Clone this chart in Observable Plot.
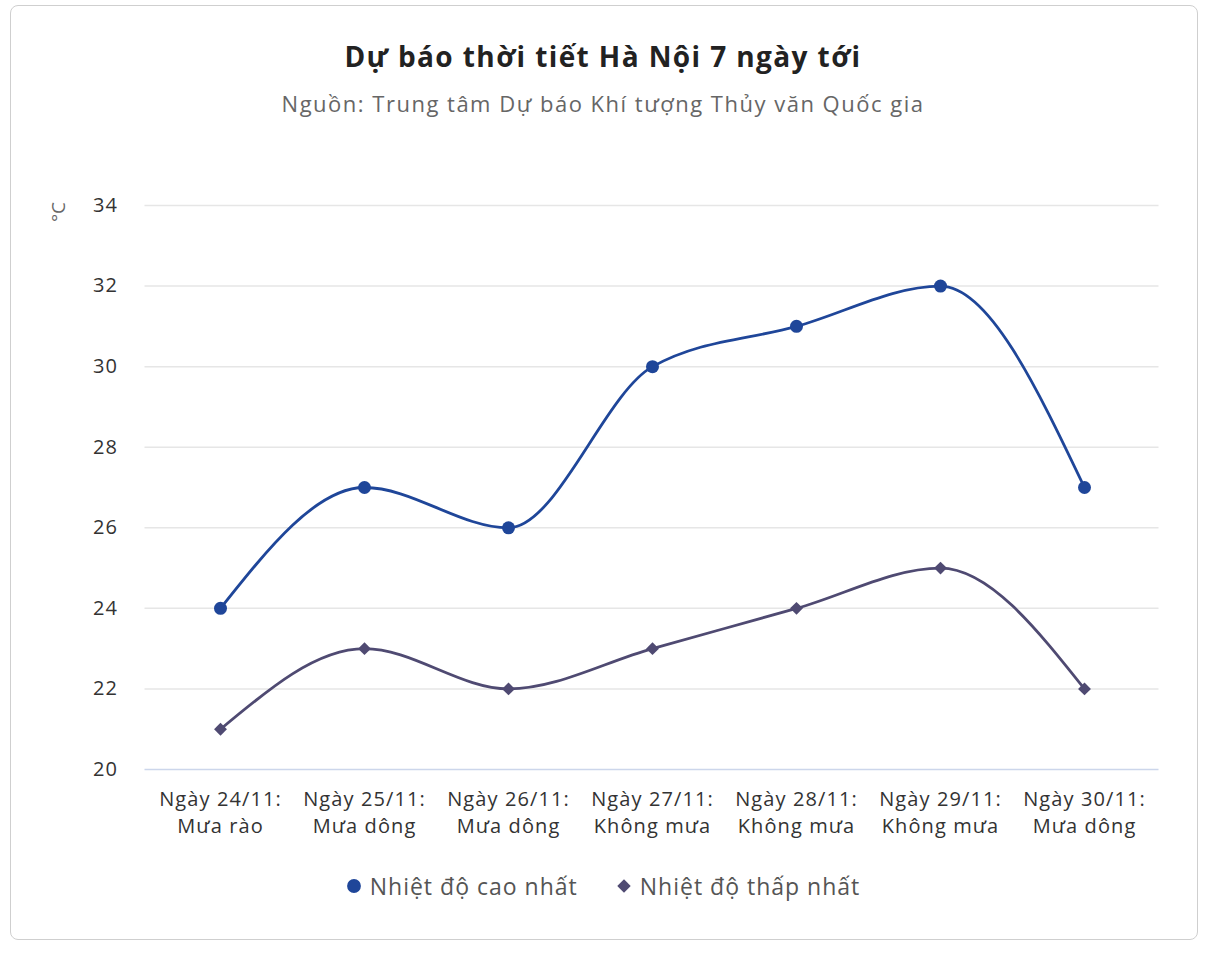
<!DOCTYPE html>
<html>
<head>
<meta charset="utf-8">
<script src="https://cdn.jsdelivr.net/npm/d3@7"></script>
<script src="https://cdn.jsdelivr.net/npm/@observablehq/plot@0.6"></script>
<style>
  html, body { margin: 0; padding: 0; background: #fff; }
  body { width: 1206px; height: 958px; position: relative; font-family: "Open Sans", "Noto Sans", sans-serif; overflow: hidden; }
  #card { position: absolute; left: 10px; top: 5px; width: 1188px; height: 935px; border: 1px solid #cfcfcf; border-radius: 8px; box-sizing: border-box; }
  #title { position: absolute; left: 0; width: 1206px; top: 36px; text-align: center; font-size: 28px; font-weight: 700; color: #222; line-height: 40px; letter-spacing: 1.4px; }
  #subtitle { position: absolute; left: 0; width: 1206px; top: 88px; text-align: center; font-size: 22px; color: #666; line-height: 30px; letter-spacing: 1.5px; }
  #ylabel { position: absolute; left: 58px; top: 212px; transform: translate(-50%, -50%) rotate(-90deg); font-size: 19px; color: #666; white-space: nowrap; }
  #chart { position: absolute; left: 0; top: 180px; }
  #chart svg text { letter-spacing: 1.1px; }
  #legend { position: absolute; left: 0; width: 1206px; top: 869px; display: flex; justify-content: center; gap: 38px; font-size: 23px; color: #555; line-height: 34px; letter-spacing: 1px; }
  .item { display: flex; align-items: center; gap: 8px; }
</style>
</head>
<body>
<div id="card"></div>
<div id="title">Dự báo thời tiết Hà Nội 7 ngày tới</div>
<div id="subtitle">Nguồn: Trung tâm Dự báo Khí tượng Thủy văn Quốc gia</div>
<div id="ylabel">°C</div>
<div id="chart"></div>
<div id="legend"></div>
<script>
const days = [
  "Ngày 24/11:\nMưa rào",
  "Ngày 25/11:\nMưa dông",
  "Ngày 26/11:\nMưa dông",
  "Ngày 27/11:\nKhông mưa",
  "Ngày 28/11:\nKhông mưa",
  "Ngày 29/11:\nKhông mưa",
  "Ngày 30/11:\nMưa dông"
];
const highTemps = [24, 27, 26, 30, 31, 32, 27];
const lowTemps = [21, 23, 22, 23, 24, 25, 22];
const yTicks = [20, 22, 24, 26, 28, 30, 32, 34];
const seriesNames = ["Nhiệt độ cao nhất", "Nhiệt độ thấp nhất"];
const seriesColors = ["#1f4699", "#4f4a72"];

const high = days.map((d, i) => ({day: d, value: highTemps[i]}));
const low = days.map((d, i) => ({day: d, value: lowTemps[i]}));

const chart = Plot.plot({
  width: 1206,
  height: 680,
  marginLeft: 144.5,
  marginRight: 47.5,
  marginTop: 25,
  marginBottom: 91,
  style: {fontFamily: "'Open Sans', 'Noto Sans', sans-serif", fontSize: "20px", color: "#333", background: "transparent"},
  x: {type: "point", domain: days, padding: 0.5},
  y: {domain: [20, 34]},
  marks: [
    Plot.ruleY(yTicks.filter(t => t > 20), {stroke: "#e6e6e6", strokeWidth: 1.5}),
    Plot.ruleY([20], {stroke: "#ccd6eb", strokeWidth: 1.5}),
    Plot.axisY({ticks: yTicks, tickSize: 0, tickPadding: 27, label: null, fill: "#333", fontSize: 20}),
    Plot.axisX({tickSize: 0, tickPadding: 18, label: null, fill: "#333", fontSize: 20, lineHeight: 1.32}),
    Plot.line(low, {x: "day", y: "value", stroke: seriesColors[1], strokeWidth: 2.8, curve: "monotone-x"}),
    Plot.line(high, {x: "day", y: "value", stroke: seriesColors[0], strokeWidth: 2.8, curve: "monotone-x"}),
    Plot.dot(low, {x: "day", y: "value", symbol: "diamond2", r: 5.8, fill: seriesColors[1]}),
    Plot.dot(high, {x: "day", y: "value", symbol: "circle", r: 6.5, fill: seriesColors[0]})
  ]
});
document.getElementById("chart").appendChild(chart);

const legend = document.getElementById("legend");
const symbols = ["circle", "diamond2"];
seriesNames.forEach((name, i) => {
  const item = document.createElement("div");
  item.className = "item";
  const sym = d3.symbol(symbols[i] === "circle" ? d3.symbolCircle : d3.symbolDiamond2, i === 0 ? 150 : 115)();
  item.innerHTML = `<svg width="16" height="16" viewBox="-8 -8 16 16"><path d="${sym}" fill="${seriesColors[i]}"></path></svg><span>${name}</span>`;
  legend.appendChild(item);
});
</script>
</body>
</html>
